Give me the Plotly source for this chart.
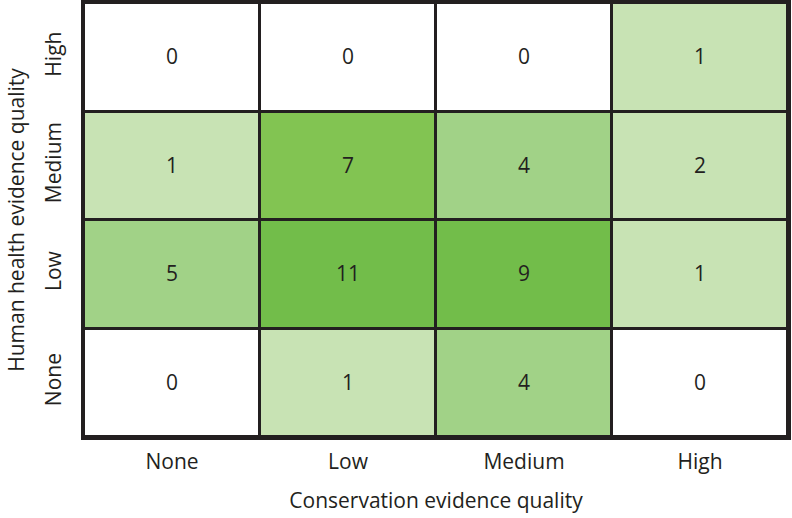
import plotly.graph_objects as go

conservation = ["None", "Low", "Medium", "High"]
human_health = ["None", "Low", "Medium", "High"]
# rows: human health (None, Low, Medium, High); cols: conservation
counts = [
    [0, 1, 4, 0],
    [5, 11, 9, 1],
    [1, 7, 4, 2],
    [0, 0, 0, 1],
]

colorscale = [
    [0.0, "#ffffff"], [0.05, "#ffffff"],
    [0.05, "#c8e3b4"], [0.3, "#c8e3b4"],
    [0.3, "#a1d287"], [0.55, "#a1d287"],
    [0.55, "#82c452"], [0.75, "#82c452"],
    [0.75, "#72bd4a"], [1.0, "#72bd4a"],
]

FAM = "'Open Sans', sans-serif"
DARK = "#231f20"
FS = 21

fig = go.Figure(go.Heatmap(
    z=counts, x=conservation, y=human_health,
    colorscale=colorscale, zmin=0, zmax=11, showscale=False,
    xgap=3, ygap=3,
    text=[[str(v) for v in row] for row in counts],
    texttemplate="%{text}", textfont=dict(family=FAM, size=21, color=DARK),
    hoverinfo="skip",
))

fig.update_layout(
    width=792, height=518,
    margin=dict(l=84, r=4, t=3, b=81),
    paper_bgcolor="white", plot_bgcolor=DARK,
    font=dict(family=FAM, size=FS, color=DARK),
    xaxis=dict(title=dict(text="Conservation evidence quality", standoff=20,
                          font=dict(family=FAM, size=FS, color=DARK)),
               tickfont=dict(family=FAM, size=FS, color=DARK),
               ticklabelstandoff=4,
               showline=True, linecolor=DARK, linewidth=3, mirror=True,
               ticks="", showgrid=False, zeroline=False, automargin=False),
    yaxis=dict(title=dict(text="Human health evidence quality", standoff=9,
                          font=dict(family=FAM, size=FS, color=DARK)),
               tickfont=dict(family=FAM, size=FS, color=DARK),
               ticklabelstandoff=12,
               showline=True, linecolor=DARK, linewidth=3, mirror=True,
               tickangle=-90, ticks="", showgrid=False, zeroline=False,
               automargin=False),
)

fig.write_html("out.html", config={"displayModeBar": False},
               post_script="document.body.style.margin='0';")
